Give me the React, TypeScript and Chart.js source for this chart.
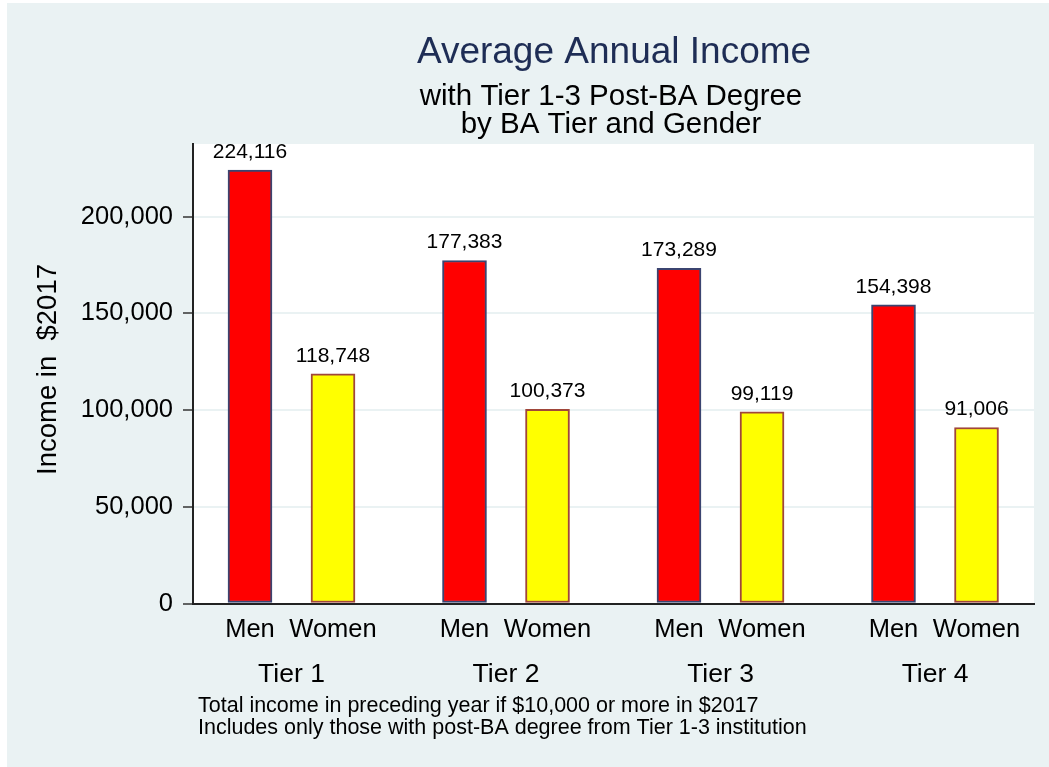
import React, { useEffect, useRef } from 'react';
import { Chart, registerables } from 'chart.js';

Chart.register(...registerables);

// ---- data ----
const tiers = ['Tier 1', 'Tier 2', 'Tier 3', 'Tier 4'];
const genders = ['Men', 'Women'];
const menIncome = [224116, 177383, 173289, 154398];
const womenIncome = [118748, 100373, 99119, 91006];
const yTicks = [0, 50000, 100000, 150000, 200000];
const titleText = 'Average Annual Income';
const subtitleLines = ['with Tier 1-3 Post-BA Degree', 'by BA Tier and Gender'];
const yTitleText = 'Income in  $2017';
const noteLines = [
  'Total income in preceding year if $10,000 or more in $2017',
  'Includes only those with post-BA degree from Tier 1-3 institution',
];

// ---- layout / style ----
const W = 1042;
const H = 764;
const FONT = '"Liberation Sans", Arial, Helvetica, sans-serif';
const BG = '#EAF2F3';
const GENDER_OFFSET = [0, 0.387];
const GROUP_MID = 0.1935;
const X_MIN = -0.2657;
const X_MAX = 3.655;
const Y_MAX = 237600;

const fmt = (v: number) => v.toLocaleString('en-US');

const decor = {
  id: 'decor',
  beforeDraw(chart: any) {
    const { ctx, chartArea: a, width, height } = chart;
    ctx.save();
    ctx.fillStyle = BG;
    ctx.fillRect(0, 0, width, height);
    ctx.fillStyle = '#ffffff';
    ctx.fillRect(a.left, a.top, a.right - a.left, a.bottom - a.top);
    ctx.restore();
  },
  afterDatasetsDraw(chart: any) {
    const { ctx } = chart;
    ctx.save();
    ctx.font = `21px ${FONT}`;
    ctx.fillStyle = '#000';
    ctx.textAlign = 'center';
    ctx.textBaseline = 'middle';
    chart.data.datasets.forEach((ds: any, di: number) => {
      const meta = chart.getDatasetMeta(di);
      meta.data.forEach((el: any, i: number) => {
        ctx.fillText(fmt(ds.data[i].y), el.x, el.y - 18);
      });
    });
    ctx.restore();
  },
  afterDraw(chart: any) {
    const { ctx } = chart;
    ctx.save();
    ctx.textAlign = 'center';
    ctx.textBaseline = 'alphabetic';
    ctx.fillStyle = '#1e2d55';
    ctx.font = `37px ${FONT}`;
    ctx.fillText(titleText, 607, 60);
    ctx.fillStyle = '#000';
    ctx.font = `29.5px ${FONT}`;
    ctx.fillText(subtitleLines[0], 604, 102);
    ctx.fillText(subtitleLines[1], 604, 130);

    ctx.font = `21.5px ${FONT}`;
    ctx.textAlign = 'left';
    ctx.fillText(noteLines[0], 191, 708.5);
    ctx.fillText(noteLines[1], 191, 731);

    ctx.translate(49, 366.5);
    ctx.rotate(-Math.PI / 2);
    ctx.textAlign = 'center';
    ctx.font = `27.5px ${FONT}`;
    ctx.fillText(yTitleText, 0, 0);
    ctx.restore();
  },
};

export default function App() {
  const ref = useRef<HTMLCanvasElement | null>(null);

  useEffect(() => {
    if (!ref.current) return;
    const barTicks = tiers.flatMap((_, i) => GENDER_OFFSET.map((o) => i + o));
    const chart = new Chart(ref.current, {
      type: 'bar',
      data: {
        datasets: [
          {
            label: genders[0],
            data: menIncome.map((v, i) => ({ x: i + GENDER_OFFSET[0], y: v })),
            backgroundColor: '#FF0000',
            borderColor: '#3B4470',
            borderWidth: 2,
            borderSkipped: false,
            barThickness: 44,
            grouped: false,
          } as any,
          {
            label: genders[1],
            data: womenIncome.map((v, i) => ({ x: i + GENDER_OFFSET[1], y: v })),
            backgroundColor: '#FFFF00',
            borderColor: '#A0463A',
            borderWidth: 2,
            borderSkipped: false,
            barThickness: 44,
            grouped: false,
          } as any,
        ],
      },
      options: {
        responsive: false,
        animation: false,
        devicePixelRatio: 1,
        layout: { padding: { top: 141, left: 0, right: 15, bottom: 68.5 } },
        plugins: {
          legend: { display: false },
          tooltip: { enabled: false },
        },
        scales: {
          x: {
            type: 'linear',
            position: 'bottom',
            offset: false,
            min: X_MIN,
            max: X_MAX,
            weight: 0,
            afterBuildTicks: (s: any) => {
              s.ticks = barTicks.map((v) => ({ value: v }));
            },
            afterFit: (s: any) => {
              s.height = 45;
            },
            ticks: {
              font: { family: FONT, size: 25.5 },
              color: '#000',
              padding: 11,
              autoSkip: false,
              maxRotation: 0,
              minRotation: 0,
              callback: (_v: any, i: number) => genders[i % 2],
            },
            grid: { display: false, drawTicks: false, offset: false },
            border: { display: true, color: '#222', width: 2 },
          },
          x2: {
            type: 'linear',
            position: 'bottom',
            offset: false,
            min: X_MIN,
            max: X_MAX,
            weight: 1,
            afterBuildTicks: (s: any) => {
              s.ticks = tiers.map((_, i) => ({ value: i + GROUP_MID }));
            },
            afterFit: (s: any) => {
              s.height = 50;
            },
            ticks: {
              font: { family: FONT, size: 26.5 },
              color: '#000',
              padding: 10,
              autoSkip: false,
              maxRotation: 0,
              minRotation: 0,
              callback: (_v: any, i: number) => tiers[i],
            },
            grid: { display: false, drawTicks: false, offset: false },
            border: { display: false },
          },
          y: {
            type: 'linear',
            min: 0,
            max: Y_MAX,
            afterBuildTicks: (s: any) => {
              s.ticks = yTicks.map((v) => ({ value: v }));
            },
            afterFit: (s: any) => {
              s.width = 186;
            },
            ticks: {
              font: { family: FONT, size: 25.5 },
              color: '#000',
              padding: 10,
              callback: (v: any) => fmt(Number(v)),
            },
            grid: {
              color: BG,
              lineWidth: 2,
              tickColor: '#333',
              tickLength: 10,
              tickWidth: 1.5,
            },
            border: { display: true, color: '#222', width: 2 },
          },
        } as any,
      },
      plugins: [decor],
    });
    return () => chart.destroy();
  }, []);

  return (
    <div style={{ position: 'fixed', left: 7, top: 3, width: W, height: H }}>
      <canvas ref={ref} width={W} height={H} style={{ display: 'block', width: W, height: H }} />
    </div>
  );
}
